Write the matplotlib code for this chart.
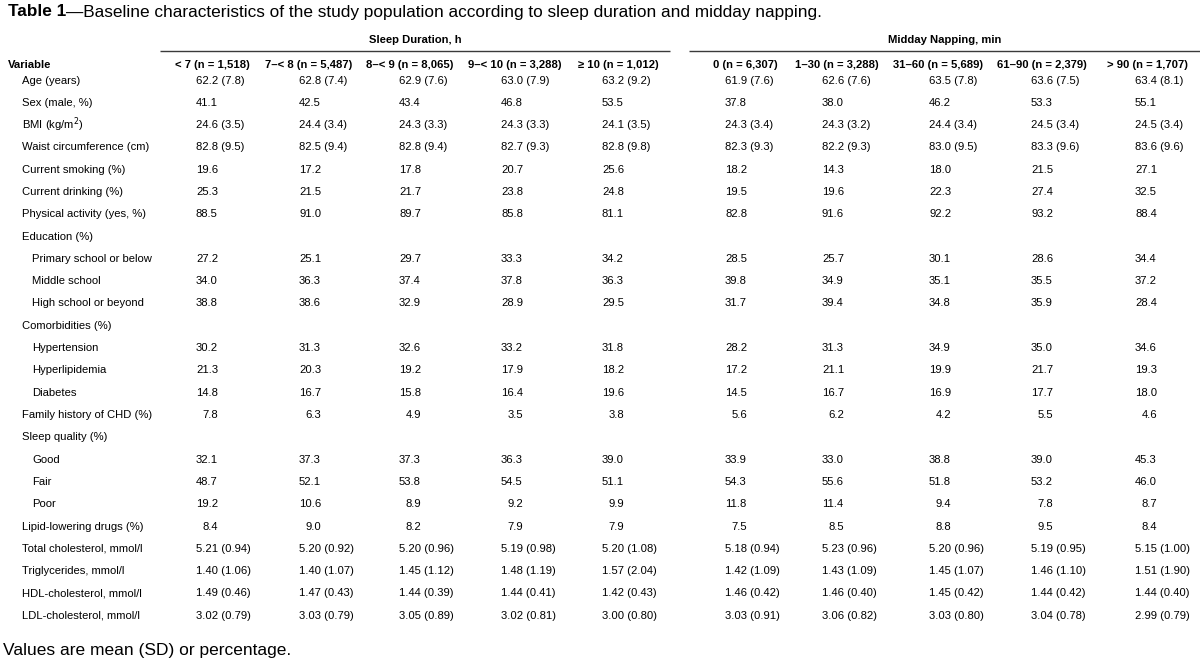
import matplotlib
matplotlib.use('Agg')
import matplotlib.pyplot as plt

plt.rcParams['font.family'] = ['Liberation Sans', 'DejaVu Sans']

# table content
title_bold = 'Table 1'
title_rest = '\u2014Baseline characteristics of the study population according to sleep duration and midday napping.'
footnote = 'Values are mean (SD) or percentage.'

group_names = ['Sleep Duration, h', 'Midday Napping, min']
col_headers = ['< 7 (n = 1,518)', '7\u2013< 8 (n = 5,487)', '8\u2013< 9 (n = 8,065)',
               '9\u2013< 10 (n = 3,288)', '\u2265 10 (n = 1,012)',
               '0 (n = 6,307)', '1\u201330 (n = 3,288)', '31\u201360 (n = 5,689)',
               '61\u201390 (n = 2,379)', '> 90 (n = 1,707)']

# (label, indent level, values) ; None = section heading
rows = [
    ('Age (years)', 0, ['62.2 (7.8)', '62.8 (7.4)', '62.9 (7.6)', '63.0 (7.9)', '63.2 (9.2)',
                        '61.9 (7.6)', '62.6 (7.6)', '63.5 (7.8)', '63.6 (7.5)', '63.4 (8.1)']),
    ('Sex (male, %)', 0, ['41.1', '42.5', '43.4', '46.8', '53.5', '37.8', '38.0', '46.2', '53.3', '55.1']),
    ('BMI (kg/m$^2$)', 0, ['24.6 (3.5)', '24.4 (3.4)', '24.3 (3.3)', '24.3 (3.3)', '24.1 (3.5)',
                           '24.3 (3.4)', '24.3 (3.2)', '24.4 (3.4)', '24.5 (3.4)', '24.5 (3.4)']),
    ('Waist circumference (cm)', 0, ['82.8 (9.5)', '82.5 (9.4)', '82.8 (9.4)', '82.7 (9.3)', '82.8 (9.8)',
                                     '82.3 (9.3)', '82.2 (9.3)', '83.0 (9.5)', '83.3 (9.6)', '83.6 (9.6)']),
    ('Current smoking (%)', 0, ['19.6', '17.2', '17.8', '20.7', '25.6', '18.2', '14.3', '18.0', '21.5', '27.1']),
    ('Current drinking (%)', 0, ['25.3', '21.5', '21.7', '23.8', '24.8', '19.5', '19.6', '22.3', '27.4', '32.5']),
    ('Physical activity (yes, %)', 0, ['88.5', '91.0', '89.7', '85.8', '81.1', '82.8', '91.6', '92.2', '93.2', '88.4']),
    ('Education (%)', 0, None),
    ('Primary school or below', 1, ['27.2', '25.1', '29.7', '33.3', '34.2', '28.5', '25.7', '30.1', '28.6', '34.4']),
    ('Middle school', 1, ['34.0', '36.3', '37.4', '37.8', '36.3', '39.8', '34.9', '35.1', '35.5', '37.2']),
    ('High school or beyond', 1, ['38.8', '38.6', '32.9', '28.9', '29.5', '31.7', '39.4', '34.8', '35.9', '28.4']),
    ('Comorbidities (%)', 0, None),
    ('Hypertension', 1, ['30.2', '31.3', '32.6', '33.2', '31.8', '28.2', '31.3', '34.9', '35.0', '34.6']),
    ('Hyperlipidemia', 1, ['21.3', '20.3', '19.2', '17.9', '18.2', '17.2', '21.1', '19.9', '21.7', '19.3']),
    ('Diabetes', 1, ['14.8', '16.7', '15.8', '16.4', '19.6', '14.5', '16.7', '16.9', '17.7', '18.0']),
    ('Family history of CHD (%)', 0, ['7.8', '6.3', '4.9', '3.5', '3.8', '5.6', '6.2', '4.2', '5.5', '4.6']),
    ('Sleep quality (%)', 0, None),
    ('Good', 1, ['32.1', '37.3', '37.3', '36.3', '39.0', '33.9', '33.0', '38.8', '39.0', '45.3']),
    ('Fair', 1, ['48.7', '52.1', '53.8', '54.5', '51.1', '54.3', '55.6', '51.8', '53.2', '46.0']),
    ('Poor', 1, ['19.2', '10.6', '8.9', '9.2', '9.9', '11.8', '11.4', '9.4', '7.8', '8.7']),
    ('Lipid-lowering drugs (%)', 0, ['8.4', '9.0', '8.2', '7.9', '7.9', '7.5', '8.5', '8.8', '9.5', '8.4']),
    ('Total cholesterol, mmol/l', 0, ['5.21 (0.94)', '5.20 (0.92)', '5.20 (0.96)', '5.19 (0.98)', '5.20 (1.08)',
                                      '5.18 (0.94)', '5.23 (0.96)', '5.20 (0.96)', '5.19 (0.95)', '5.15 (1.00)']),
    ('Triglycerides, mmol/l', 0, ['1.40 (1.06)', '1.40 (1.07)', '1.45 (1.12)', '1.48 (1.19)', '1.57 (2.04)',
                                  '1.42 (1.09)', '1.43 (1.09)', '1.45 (1.07)', '1.46 (1.10)', '1.51 (1.90)']),
    ('HDL-cholesterol, mmol/l', 0, ['1.49 (0.46)', '1.47 (0.43)', '1.44 (0.39)', '1.44 (0.41)', '1.42 (0.43)',
                                    '1.46 (0.42)', '1.46 (0.40)', '1.45 (0.42)', '1.44 (0.42)', '1.44 (0.40)']),
    ('LDL-cholesterol, mmol/l', 0, ['3.02 (0.79)', '3.03 (0.79)', '3.05 (0.89)', '3.02 (0.81)', '3.00 (0.80)',
                                    '3.03 (0.91)', '3.06 (0.82)', '3.03 (0.80)', '3.04 (0.78)', '2.99 (0.79)']),
]

# layout (pixels)
W, H = 1200, 668
data_left = [196, 299, 399, 501, 602, 725, 822, 929, 1031, 1135]
head_center = [212, 309, 410, 515, 618, 745, 837, 938, 1042, 1147]
group_lines = [(160, 670), (689, 1200)]
body_fs = 8.1
row0, row_step = 80.5, 22.3

fig = plt.figure(figsize=(W / 100, H / 100), dpi=100)
ax = fig.add_axes([0, 0, 1, 1])
ax.set_xlim(0, W)
ax.set_ylim(H, 0)
ax.axis('off')

# title: bold "Table 1" followed by regular text
t = ax.text(8, 12, title_bold, fontsize=12.4, fontweight='bold', va='center', ha='left')
fig.canvas.draw()
bb = t.get_window_extent()
x_end = ax.transData.inverted().transform((bb.x1, bb.y0))[0]
ax.text(x_end, 12, title_rest, fontsize=12.4, va='center', ha='left')

# group headers with rules
for name, (x0, x1) in zip(group_names, group_lines):
    ax.text((x0 + x1) / 2, 40, name, fontsize=body_fs, fontweight='bold', ha='center', va='center')
    ax.plot([x0, x1], [51, 51], color='#3a3a3a', lw=1.0, solid_capstyle='butt')

ax.text(8, 64.5, 'Variable', fontsize=body_fs, fontweight='bold', va='center')
for h, xc in zip(col_headers, head_center):
    ax.text(xc, 64.5, h, fontsize=body_fs, fontweight='bold', ha='center', va='center')

# body rows; single-digit values are padded by one digit width
digit_w = 0.556 * body_fs * 100 / 72
for i, (label, level, vals) in enumerate(rows):
    y = row0 + i * row_step
    ax.text(22 + 10 * level, y, label, fontsize=body_fs, va='center')
    if vals is None:
        continue
    for v, xl in zip(vals, data_left):
        shift = digit_w if v.index('.') == 1 and '(' not in v else 0
        ax.text(xl + shift, y, v, fontsize=body_fs, va='center')

ax.text(3, 650, footnote, fontsize=12.5, va='center')

fig.savefig('out.png', dpi=100)
